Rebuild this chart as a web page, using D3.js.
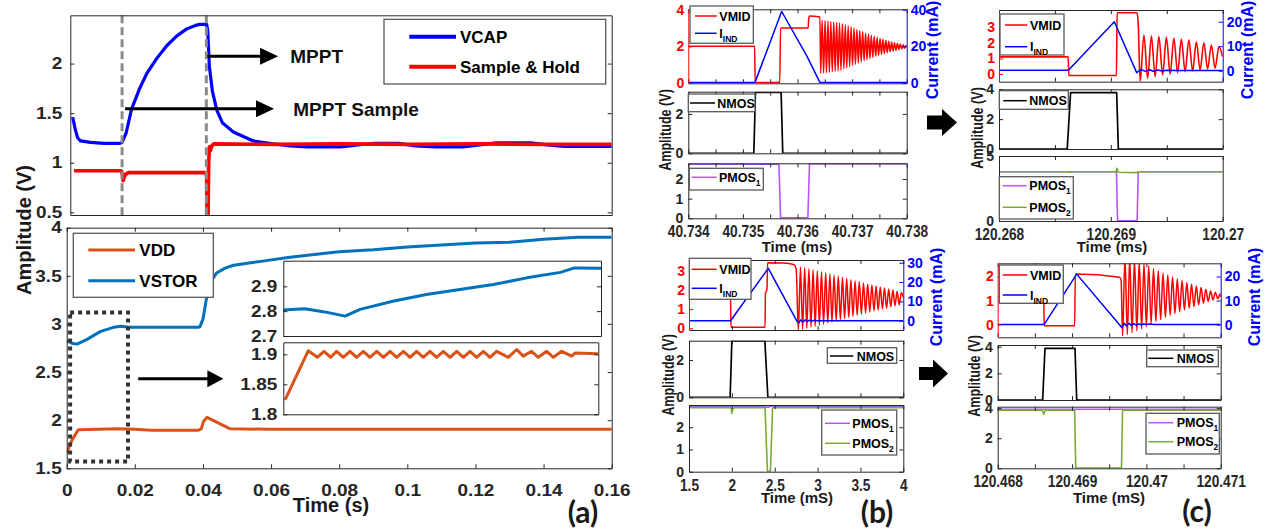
<!DOCTYPE html>
<html lang="en">
<head>
<meta charset="utf-8"/>
<title>MPPT and converter switching waveforms</title>
<script src="https://cdnjs.cloudflare.com/ajax/libs/d3/7.8.5/d3.min.js"></script>
<style>
  html, body { margin: 0; padding: 0; background: #fff; }
  svg { display: block; background: #fff; font-family: "Liberation Sans", Arial, sans-serif; font-weight: bold; }
</style>
</head>
<body>
<svg id="fig" width="1267" height="529"></svg>
<script>
// ---------------- (a) MPPT transient, time in s ----------------
const aTimeTicks = [0, 0.02, 0.04, 0.06, 0.08, 0.1, 0.12, 0.14, 0.16];
const aTimeLabels = ["0", "0.02", "0.04", "0.06", "0.08", "0.1", "0.12", "0.14", "0.16"];
const aTopTicks = [0.5, 1, 1.5, 2];
const aBotTicks = [1.5, 2, 2.5, 3, 3.5, 4];
const vcap = [[0.0007,1.46],[0.0015,1.33],[0.0022,1.25],[0.003,1.22],[0.006,1.205],[0.010,1.195],[0.0145,1.195],
  [0.0153,1.205],[0.0165,1.30],[0.0181,1.54],[0.0205,1.75],[0.0226,1.90],[0.0255,2.05],[0.0285,2.18],[0.0315,2.28],
  [0.0344,2.35],[0.0370,2.385],[0.0383,2.395],[0.0403,2.395],[0.0406,2.34],[0.0411,1.97],[0.0420,1.72],[0.0433,1.53],
  [0.0450,1.40],[0.0482,1.31],[0.0541,1.22],[0.0600,1.19],[0.0650,1.17],[0.0700,1.16],[0.0800,1.16],[0.0850,1.18],
  [0.0900,1.195],[0.0970,1.195],[0.1020,1.17],[0.1080,1.16],[0.1160,1.16],[0.1210,1.18],[0.1260,1.20],[0.1360,1.20],
  [0.1410,1.18],[0.1460,1.165],[0.1600,1.165]];
const sampleHold = [[0.0011,0.92],[0.0150,0.92],[0.0153,0.90],[0.0156,0.82],[0.0162,0.88],[0.0172,0.90],[0.0400,0.90],
  [0.0403,0.86],[0.0404,0.40],[0.0407,0.40],[0.0409,1.00],[0.0411,1.16],[0.0414,1.12],[0.0418,1.17],[0.0424,1.19],
  [0.0600,1.185],[0.0800,1.19],[0.1000,1.185],[0.1200,1.19],[0.1400,1.185],[0.1600,1.185]];
const mpptMarks = [0.0153, 0.0402];
const vstor = [[0,2.823],[0.0015,2.80],[0.003,2.79],[0.006,2.84],[0.0098,2.92],[0.0137,2.965],[0.016,2.975],[0.018,2.965],
  [0.030,2.965],[0.0385,2.965],[0.0391,2.97],[0.0400,3.05],[0.0411,3.28],[0.0425,3.45],[0.0440,3.53],[0.0465,3.58],
  [0.0490,3.61],[0.0530,3.63],[0.0570,3.65],[0.0650,3.69],[0.0720,3.72],[0.0800,3.75],[0.0900,3.77],[0.1000,3.80],
  [0.1100,3.82],[0.1200,3.84],[0.1300,3.85],[0.1400,3.88],[0.1500,3.90],[0.1600,3.90]];
const vdd = [[0,1.656],[0.0015,1.79],[0.0034,1.90],[0.015,1.91],[0.020,1.905],[0.025,1.895],[0.0385,1.895],[0.0395,1.91],
  [0.0402,1.99],[0.0412,2.03],[0.0480,1.91],[0.0600,1.905],[0.1600,1.905]];
// insets, time in ms
const stTicks = [2.7, 2.8, 2.9];
const vstorZoom = [[0,2.805],[1.2,2.81],[2.35,2.797],[3.5,2.78],[4.35,2.807],[6.2,2.84],[8.1,2.867],[10,2.887],
  [11.9,2.907],[13.8,2.934],[15.7,2.956],[16.5,2.974],[18,2.973]];
const vdTicks = [1.8, 1.85, 1.9];
const vddZoom = [[0.1,1.824],[1.43,1.906],[1.94,1.895],[2.33,1.905],[2.71,1.895],[3.05,1.905],[3.43,1.895],[3.81,1.905],
  [4.19,1.895],[4.57,1.905],[4.95,1.895],[5.34,1.905],[5.72,1.895],[6.1,1.905],[6.48,1.895],[6.86,1.905],[7.24,1.895],
  [7.62,1.905],[8.0,1.895],[8.38,1.905],[8.76,1.895],[9.14,1.905],[9.53,1.895],[9.91,1.905],[10.29,1.895],[10.67,1.905],
  [11.05,1.895],[11.43,1.905],[11.81,1.895],[12.19,1.905],[12.86,1.895],[13.34,1.908],[13.71,1.897],[14.19,1.905],
  [14.57,1.895],[15.05,1.905],[15.43,1.895],[15.91,1.905],[16.48,1.897],[16.67,1.902],[18,1.901]];

// ---------------- (b) top, time in us after 40.734 ms ----------------
const bTopTickVals = [0, 0.5, 1, 1.5, 2, 2.5, 3, 3.5, 4];
const bTopTickText = ["40.734", "", "40.735", "", "40.736", "", "40.737", "", "40.738"];
const vmidB1 = [[0,2.0],[1.215,2.0],[1.225,0.02],[1.675,0.02],[1.69,3.0],[2.195,3.0],[2.205,3.5],[2.225,3.66],[2.41,3.6]];
const vmidB1Ring = {t0: 2.425, dt: 0.0265, v: [0.52,3.42,0.54,3.40,0.56,3.38,0.58,3.36,0.61,3.33,0.64,3.30,0.67,3.27,
  0.71,3.23,0.77,3.17,0.83,3.11,0.89,3.05,0.96,2.98,1.02,2.92,1.09,2.85,1.15,2.79,1.21,2.73,1.27,2.67,1.33,2.61,
  1.39,2.55,1.45,2.49,1.51,2.43,1.56,2.38,1.61,2.33,1.66,2.28,1.70,2.24,1.74,2.20,1.78,2.16,1.82,2.12,1.86,2.08,1.89,2.05]};
const vmidB1End = [[4.0,1.97]];
const iIndB1 = [[0,0.3],[1.222,0.3],[1.71,39],[2.17,14.8],[2.41,0.3],[4,0.3]];
const nmosB1 = [[0,0],[1.2,0],[1.23,3.1],[1.70,3.1],[1.73,0],[4,0]];
const pmos1B1 = [[0,2.75],[1.66,2.75],[1.69,0.02],[2.19,0.02],[2.22,2.78],[4,2.78]];

// ---------------- (b) bottom, time in ms ----------------
const bBotTickVals = [1.5, 2, 2.5, 3, 3.5, 4];
const bBotTickText = ["1.5", "2", "2.5", "3", "3.5", "4"];
const vmidB2 = [[1.5,1.7],[1.984,1.7],[1.99,0.05],[2.387,0.05],[2.392,1.85],[2.40,1.92],[2.41,2.05],[2.417,3.42],
  [2.6,3.40],[2.72,3.33],[2.75,3.1]];
const vmidB2Ring = {t0: 2.776, dt: 0.0245, v: [-0.10,3.20,-0.05,3.15,0.00,3.10,0.06,3.04,0.11,2.99,0.16,2.94,0.21,2.89,
  0.27,2.83,0.33,2.77,0.39,2.71,0.45,2.65,0.51,2.59,0.57,2.53,0.63,2.47,0.68,2.42,0.74,2.36,0.79,2.31,0.85,2.25,
  0.90,2.20,0.95,2.15,1.00,2.10,1.05,2.05,1.11,1.99,1.17,1.93,1.23,1.87]};
const vmidB2End = [[4.0,1.6]];
const iIndB2 = [[1.5,0],[1.985,0],[2.425,27.1],[2.756,0],[2.78,-1.2],[2.8,0.4],[2.83,-0.6],[2.855,0.4],[2.88,-0.4],
  [2.905,0.3],[2.93,-0.3],[2.955,0.2],[3.0,0],[4.0,0]];
const nmosB2 = [[1.5,0],[1.98,0],[2.0,3.02],[2.385,3.02],[2.42,0],[4,0]];
const pmos1B2 = [[1.5,2.95],[2.38,2.95],[2.40,2.9],[2.43,2.9],[2.45,2.95],[4,2.95]];
const pmos2B2 = [[1.5,2.88],[1.99,2.88],[2.0,2.62],[2.01,2.8],[2.03,2.88],[2.387,2.88],[2.415,0.02],[2.45,0.02],
  [2.475,2.88],[4,2.88]];

// ---------------- (c) top, time in us after 120.268 ms ----------------
const cTopTickVals = [0, 0.5, 1, 1.5, 2];
const cTopTickText = ["120.268", "", "120.269", "", "120.27"];
const vmidC1 = [[0,1.1],[0.618,1.1],[0.625,-0.1],[1.05,-0.1],[1.056,3.95],[1.235,3.95],[1.245,3.2]];
const vmidC1Ring = {t0: 1.262, dt: 0.0335, v: [-0.5,2.52,-0.28,2.45,-0.17,2.41,-0.06,2.37,0.0,2.30,0.08,2.24,
  0.15,2.19,0.19,2.08,0.26,2.02,0.32,1.87,0.37,1.76]};
const vmidC1End = [[2.0,1.1]];
const iIndC1 = [[0,0.2],[0.62,0.2],[1.031,20],[1.231,-0.8],[1.27,0.5],[1.31,-0.3],[1.345,0.4],[1.38,-0.2],[1.42,0.3],
  [1.46,-0.1],[1.5,0.2],[1.6,0.1],[2,0.1]];
const nmosC1 = [[0,0],[0.61,0],[0.64,3.78],[1.052,3.78],[1.067,0],[2,0]];
const pmos1C1 = [[0,3.79],[1.05,3.79],[1.06,0.02],[1.235,0.02],[1.245,3.79],[2,3.79]];
const pmos2C1 = [[0,3.79],[0.62,3.79],[0.63,3.75],[0.65,3.79],[1.045,3.79],[1.055,4.05],[1.065,3.75],[1.24,3.72],
  [1.25,3.79],[2,3.79]];

// ---------------- (c) bottom, time in us after 120.468 ms ----------------
const cBotTickVals = [0, 0.5, 1, 1.5, 2, 2.5, 3];
const cBotTickText = ["120.468", "", "120.469", "", "120.47", "", "120.471"];
const vmidC2 = [[0,1.15],[0.62,1.15],[0.625,-0.05],[1.035,-0.05],[1.045,2.1],[1.64,1.97],[1.66,1.85]];
const vmidC2Ring = {t0: 1.68, dt: 0.032, v: [-0.47,2.83,-0.42,2.78,-0.34,2.70,-0.26,2.62,-0.18,2.54,-0.08,2.44,
  0.03,2.33,0.12,2.24,0.21,2.15,0.30,2.06,0.38,1.98,0.46,1.90,0.53,1.83,0.61,1.75,0.68,1.68,0.75,1.61,0.82,1.54,
  0.89,1.47,0.96,1.40,1.02,1.34,1.08,1.28]};
const vmidC2End = [[3.0,1.15]];
const iIndC2 = [[0,0],[0.623,0],[1.063,21],[1.67,-1.2],[1.7,0.5],[1.73,-0.5],[1.765,0.5],[1.8,-0.3],[1.83,0.4],
  [1.865,-0.2],[1.9,0.3],[1.93,-0.1],[1.96,0.2],[2.0,0],[2.05,0.2],[2.1,0],[3,0]];
const nmosC2 = [[0,0],[0.605,0],[0.636,3.87],[1.04,3.87],[1.063,0],[3,0]];
const pmos1C2 = [[0,3.93],[3,3.93]];
const pmos2C2 = [[0,3.87],[0.6,3.87],[0.62,3.6],[0.64,3.87],[1.035,3.87],[1.05,0.02],[1.665,0.02],[1.68,3.87],[3,3.87]];

// ---------------- drawing ----------------
const FONT = '"Liberation Sans", Arial, sans-serif';
const INK = "#262626";
const RED = "#ff0000", BLUE = "#0000ff", PURPLE = "#b455ff", GREEN = "#77ac30";
const svg = d3.select("#fig");
const defs = svg.append("defs");
const fmt = d3.format("~g");
let nClip = 0;

const ring = r => r.v.map((v, i) => [r.t0 + i * r.dt, v]);

function panel(o) {
  const g = svg.append("g");
  const x = d3.scaleLinear().domain(o.xd).range([o.l, o.r]);
  const y = d3.scaleLinear().domain(o.yd).range([o.b, o.t]);
  const y2 = o.y2d ? d3.scaleLinear().domain(o.y2d).range([o.b, o.t]) : null;
  if (o.bg) g.append("rect").attr("x", o.l).attr("y", o.t)
    .attr("width", o.r - o.l).attr("height", o.b - o.t).attr("fill", "#fff");
  const id = "clip" + (nClip++);
  defs.append("clipPath").attr("id", id).append("rect")
    .attr("x", o.l).attr("y", o.t).attr("width", o.r - o.l).attr("height", o.b - o.t);
  const plot = g.append("g").attr("clip-path", `url(#${id})`);
  const ax = g.append("g");
  const p = {o, g, plot, ax, x, y, y2};
  drawAxes(p);
  return p;
}

function styleText(sel, fs, sc) {
  sel.attr("font-family", FONT).attr("font-weight", "bold");
  sel.selectAll("text").attr("font-size", fs).attr("transform", `scale(${sc[0]},${sc[1]})`);
}

function drawAxes(p) {
  const o = p.o, tl = o.tl || 4, pad = o.ypad || 5;
  const xs = o.xs || [1, 0.86], ys = o.ys || [1, 0.86];
  const xt = o.xt || [];
  const gb = p.ax.append("g").attr("transform", `translate(0,${o.b})`).attr("color", INK)
    .call(d3.axisBottom(p.x).tickValues(xt).tickSizeInner(-tl).tickSizeOuter(0)
      .tickFormat((d, i) => o.xl ? o.xl[i] : ""));
  styleText(gb, o.fs, xs);
  gb.selectAll("text").attr("y", (o.xpad || 8) / xs[1]);
  p.ax.append("g").attr("transform", `translate(0,${o.t})`).attr("color", INK)
    .call(d3.axisTop(p.x).tickValues(xt).tickSizeInner(-tl).tickSizeOuter(0).tickFormat(""));
  const gl = p.ax.append("g").attr("transform", `translate(${o.l},0)`).attr("color", o.yc || INK)
    .call(d3.axisLeft(p.y).tickValues(o.yt).tickSizeInner(-tl).tickSizeOuter(0).tickPadding(pad).tickFormat(fmt));
  styleText(gl, o.yfs || o.fs, ys);
  const ra = p.y2 ? d3.axisRight(p.y2).tickValues(o.y2t).tickFormat(fmt)
                  : d3.axisRight(p.y).tickValues(o.yt).tickFormat("");
  const gr = p.ax.append("g").attr("transform", `translate(${o.r},0)`).attr("color", p.y2 ? o.y2c : INK)
    .call(ra.tickSizeInner(-tl).tickSizeOuter(0).tickPadding(pad));
  styleText(gr, o.yfs || o.fs, ys);
}

function trace(p, data, color, w, ys, curve) {
  const yy = ys || p.y;
  p.plot.append("path").datum(data)
    .attr("fill", "none").attr("stroke", color).attr("stroke-width", w)
    .attr("stroke-linejoin", "round")
    .attr("d", d3.line().curve(curve || d3.curveLinear).x(d => p.x(d[0])).y(d => yy(d[1])));
}

function legend(box, lx0, lx1, tx, rows, fs, lw) {
  const g = svg.append("g");
  g.append("rect").attr("x", box[0]).attr("y", box[1]).attr("width", box[2] - box[0]).attr("height", box[3] - box[1])
    .attr("fill", "#fff").attr("stroke", "#5a5a5a").attr("stroke-width", 1.3);
  rows.forEach(r => {
    g.append("line").attr("x1", lx0).attr("x2", lx1).attr("y1", r.y).attr("y2", r.y)
      .attr("stroke", r.c).attr("stroke-width", lw);
    const t = g.append("text").attr("x", tx).attr("y", r.y).attr("dy", "0.36em")
      .attr("font-size", fs).attr("fill", "#000").text(r.name);
    if (r.sub) t.append("tspan").attr("dy", fs * 0.32).attr("font-size", fs * 0.68).text(r.sub);
  });
}

function label(x, y, str, fs, opt) {
  opt = opt || {};
  let tr = `translate(${x},${y})`;
  if (opt.rot) tr += ` scale(1,${opt.sy || 1}) rotate(-90)`;
  svg.append("text").attr("transform", tr).attr("text-anchor", opt.anchor || "middle").attr("dy", "0.36em")
    .attr("font-size", fs).attr("fill", opt.color || "#1a1a1a")
    .attr("font-family", opt.font || FONT).text(str);
}

function arrowHead(x, y, len, half) {
  svg.append("path").attr("fill", "#000")
    .attr("d", `M${x},${y}L${x - len},${y - half}L${x - len},${y + half}Z`);
}

// ----- (a) top -----
const aTop = panel({l: 70.3, r: 611.7, t: 15.3, b: 215, xd: [0, 0.16], yd: [0.473, 2.487], yt: aTopTicks, fs: 19, ypad: 8});
trace(aTop, vcap, BLUE, 3.2);
trace(aTop, sampleHold, RED, 3.6);
mpptMarks.forEach(t => {
  aTop.plot.append("line").attr("x1", aTop.x(t)).attr("x2", aTop.x(t)).attr("y1", 15.3).attr("y2", 215)
    .attr("stroke", "#8a8a8a").attr("stroke-width", 3).attr("stroke-dasharray", "8 4");
});
[[0.0405, 0.0614, 2.074, "MPPT", 0.065], [0.0162, 0.0602, 1.544, "MPPT Sample", 0.0659]].forEach(a => {
  const y = aTop.y(a[2]);
  svg.append("line").attr("x1", aTop.x(a[0])).attr("x2", aTop.x(a[1]) - 14).attr("y1", y).attr("y2", y)
    .attr("stroke", "#000").attr("stroke-width", 3);
  arrowHead(aTop.x(a[1]), y, 18, 8.5);
  label(aTop.x(a[4]), y, a[3], 19, {anchor: "start", color: "#111"});
});
legend([384, 19.3, 605.7, 84], 409.3, 456, 460,
  [{y: 36.7, c: BLUE, name: "VCAP"}, {y: 66.7, c: RED, name: "Sample & Hold"}], 17, 4);

// ----- (a) bottom -----
const aBot = panel({l: 66.7, r: 611.7, t: 227.7, b: 468.3, xd: [0, 0.16], yd: [1.5, 4], yt: aBotTicks,
  xt: aTimeTicks, xl: aTimeLabels, fs: 19, ypad: 5, xpad: 16});
trace(aBot, vstor, "#0072bd", 3);
trace(aBot, vdd, "#d95319", 3);
const insSt = panel({l: 283.3, r: 601, t: 260.7, b: 336, xd: [0, 18], yd: [2.7, 3.003], yt: stTicks, fs: 19, ypad: 6, bg: true});
trace(insSt, vstorZoom, "#0072bd", 3);
const insVd = panel({l: 283.3, r: 598.3, t: 342.3, b: 414.3, xd: [0, 18], yd: [1.8, 1.92], yt: vdTicks, fs: 19, ypad: 6, bg: true});
trace(insVd, vddZoom, "#d95319", 3);
// zoom window marker
svg.append("rect").attr("x", aBot.x(0.001)).attr("y", aBot.y(3.12))
  .attr("width", aBot.x(0.018) - aBot.x(0.001)).attr("height", aBot.y(1.57) - aBot.y(3.12))
  .attr("fill", "none").attr("stroke", "#333").attr("stroke-width", 4).attr("stroke-dasharray", "4 4");
svg.append("line").attr("x1", aBot.x(0.021)).attr("x2", aBot.x(0.046) - 14)
  .attr("y1", aBot.y(2.43)).attr("y2", aBot.y(2.43)).attr("stroke", "#000").attr("stroke-width", 3);
arrowHead(aBot.x(0.046), aBot.y(2.43), 16, 8.5);
legend([73.3, 233.3, 213.3, 297.3], 88.3, 135, 139.3,
  [{y: 250, c: "#d95319", name: "VDD"}, {y: 280.7, c: "#0072bd", name: "VSTOR"}], 17, 3);

label(24, 230, "Amplitude (V)", 20, {rot: true});
label(331, 505, "Time (s)", 20);
label(583, 512, "(a)", 30, {font: "Lato, sans-serif"});

// ----- (b) -----
const SF = 16.3, YF = 14, XS = [0.84, 1], YS = [1, 1];
const MONO = d3.curveMonotoneX;
const sub = o => Object.assign({fs: SF, yfs: YF, xs: XS, ys: YS, xpad: 7.5}, o);
const b1 = panel(sub({l: 688.3, r: 906.7, t: 9.3, b: 83.3, xd: [0, 4], yd: [-0.02, 4.02], y2d: [-0.2, 40.2],
  yt: [0, 2, 4], y2t: [0, 20, 40], yc: RED, y2c: BLUE, xt: bTopTickVals, ypad: 4}));
trace(b1, vmidB1.concat(ring(vmidB1Ring), vmidB1End), RED, 1.5, null, MONO);
trace(b1, iIndB1, BLUE, 1.5, b1.y2);
const b2 = panel(sub({l: 688.3, r: 906.7, t: 91.7, b: 153.3, xd: [0, 4], yd: [0, 3.13], yt: [0, 2], xt: bTopTickVals}));
trace(b2, nmosB1, "#000", 1.7);
const b3 = panel(sub({l: 688.3, r: 906.7, t: 163.3, b: 218.3, xd: [0, 4], yd: [0, 2.8], yt: [0, 1, 2],
  xt: bTopTickVals, xl: bTopTickText}));
trace(b3, pmos1B1, PURPLE, 1.6);
legend([690, 6, 753.3, 43.3], 695, 716.7, 719.3,
  [{y: 16, c: RED, name: "VMID"}, {y: 33.3, c: BLUE, name: "I", sub: "IND"}], 12.5, 1.5);
legend([688.3, 94, 755, 111.7], 690, 715, 717.3, [{y: 103, c: "#000", name: "NMOS"}], 12.5, 1.5);
legend([689.3, 168.3, 763.3, 190], 691.7, 716.7, 719, [{y: 177.3, c: PURPLE, name: "PMOS", sub: "1"}], 12.5, 1.5);

const b4 = panel(sub({l: 689, r: 903.3, t: 260, b: 330, xd: [1.5, 4], yd: [-0.09, 3.56], y2d: [-4.8, 31.4],
  yt: [0, 1, 2, 3], y2t: [0, 10, 20, 30], yc: RED, y2c: BLUE, xt: bBotTickVals, ypad: 4}));
trace(b4, vmidB2.concat(ring(vmidB2Ring), vmidB2End), RED, 1.5, null, MONO);
trace(b4, iIndB2, BLUE, 1.5, b4.y2);
const b5 = panel(sub({l: 689, r: 903.3, t: 340.7, b: 397.3, xd: [1.5, 4], yd: [0, 3.03], yt: [0, 2], xt: bBotTickVals}));
trace(b5, nmosB2, "#000", 1.7);
const b6 = panel(sub({l: 689, r: 903.3, t: 405, b: 471.7, xd: [1.5, 4], yd: [0, 3], yt: [0, 1, 2],
  xt: bBotTickVals, xl: bBotTickText}));
trace(b6, pmos1B2, PURPLE, 1.6);
trace(b6, pmos2B2, GREEN, 1.6);
legend([689.3, 258.3, 751, 299.3], 691.7, 716.7, 719.3,
  [{y: 269.3, c: RED, name: "VMID"}, {y: 288.3, c: BLUE, name: "I", sub: "IND"}], 12.5, 1.5);
legend([827.3, 347.7, 896.7, 363.3], 830, 853.3, 856.7, [{y: 356, c: "#000", name: "NMOS"}], 12.5, 1.5);
legend([821.7, 410, 896.7, 455], 825, 850, 852.3,
  [{y: 423.3, c: PURPLE, name: "PMOS", sub: "1"}, {y: 443.3, c: GREEN, name: "PMOS", sub: "2"}], 12.5, 1.5);

label(665, 130, "Amplitude (V)", 17, {rot: true, sy: 0.74});
label(932, 50, "Current (mA)", 16, {rot: true, color: BLUE});
label(797, 247, "Time (ms)", 15);
label(667.5, 375, "Amplitude (V)", 17, {rot: true, sy: 0.74});
label(936, 297, "Current (mA)", 16, {rot: true, color: BLUE});
label(797, 498, "Time (mS)", 15);
label(877, 512, "(b)", 30, {font: "Lato, sans-serif"});

// ----- (c) -----
const c1 = panel(sub({l: 999, r: 1222.7, t: 10, b: 81.7, xd: [0, 2], yd: [-0.5, 4.13], y2d: [-4.5, 24.8],
  yt: [0, 1, 2, 3], y2t: [0, 10, 20], yc: RED, y2c: BLUE, xt: cTopTickVals, ypad: 4}));
trace(c1, vmidC1.concat(ring(vmidC1Ring), vmidC1End), RED, 1.6, null, MONO);
trace(c1, iIndC1, BLUE, 1.5, c1.y2);
const c2 = panel(sub({l: 999, r: 1222.7, t: 89.3, b: 149, xd: [0, 2], yd: [0, 4], yt: [0, 2, 4], xt: cTopTickVals}));
trace(c2, nmosC1, "#000", 1.7);
const c3 = panel(sub({l: 999, r: 1222.7, t: 156, b: 221, xd: [0, 2], yd: [0, 5], yt: [0, 5],
  xt: cTopTickVals, xl: cTopTickText}));
trace(c3, pmos1C1, PURPLE, 1.6);
trace(c3, pmos2C1, GREEN, 1.6);
legend([1000, 14, 1064, 55], 1005, 1027.3, 1030,
  [{y: 25, c: RED, name: "VMID"}, {y: 46.7, c: BLUE, name: "I", sub: "IND"}], 12.5, 1.5);
legend([999.3, 90.7, 1068.3, 109.3], 1003.3, 1026.7, 1029.3, [{y: 100.7, c: "#000", name: "NMOS"}], 12.5, 1.5);
legend([999.3, 176.7, 1073.3, 219], 1002.7, 1026.7, 1029.3,
  [{y: 185.7, c: PURPLE, name: "PMOS", sub: "1"}, {y: 207.3, c: GREEN, name: "PMOS", sub: "2"}], 12.5, 1.5);

const c4 = panel(sub({l: 997.7, r: 1220.7, t: 263.3, b: 337.3, xd: [0, 3], yd: [-0.53, 2.55], y2d: [-5.3, 25.5],
  yt: [0, 1, 2], y2t: [0, 10, 20], yc: RED, y2c: BLUE, xt: cBotTickVals, ypad: 4}));
trace(c4, vmidC2.concat(ring(vmidC2Ring), vmidC2End), RED, 1.5, null, MONO);
trace(c4, iIndC2, BLUE, 1.5, c4.y2);
const c5 = panel(sub({l: 997.7, r: 1220.7, t: 345, b: 400, xd: [0, 3], yd: [0, 4.13], yt: [0, 2, 4], xt: cBotTickVals}));
trace(c5, nmosC2, "#000", 1.7);
const c6 = panel(sub({l: 997.7, r: 1220.7, t: 406.7, b: 468.3, xd: [0, 3], yd: [0, 4.1], yt: [0, 2, 4],
  xt: cBotTickVals, xl: cBotTickText}));
trace(c6, pmos1C2, PURPLE, 1.6);
trace(c6, pmos2C2, GREEN, 1.6);
legend([999.3, 265, 1063.3, 303.3], 1002.7, 1027.3, 1030,
  [{y: 275, c: RED, name: "VMID"}, {y: 295, c: BLUE, name: "I", sub: "IND"}], 12.5, 1.5);
legend([1146.7, 350, 1218.3, 366.7], 1148.3, 1173.3, 1176.7, [{y: 358.3, c: "#000", name: "NMOS"}], 12.5, 1.5);
legend([1146, 413.3, 1219.3, 454], 1148.3, 1173.3, 1176.7,
  [{y: 422.7, c: PURPLE, name: "PMOS", sub: "1"}, {y: 441.7, c: GREEN, name: "PMOS", sub: "2"}], 12.5, 1.5);

label(976.7, 128, "Amplitude (V)", 17, {rot: true, sy: 0.74});
label(1247.5, 50, "Current (mA)", 16, {rot: true, color: BLUE});
label(1112, 247, "Time (ms)", 15);
label(974, 376, "Amplitude (V)", 17, {rot: true, sy: 0.74});
label(1254, 297, "Current (mA)", 16, {rot: true, color: BLUE});
label(1109, 498, "Time (mS)", 15);
label(1197, 511, "(c)", 30, {font: "Lato, sans-serif"});

// block arrows between (b) and (c)
[[[927,115.5],[942,115.5],[942,109],[957,122.5],[942,136],[942,129.5],[927,129.5]],
 [[919,367],[933,367],[933,359.5],[948,373.5],[933,387.5],[933,380],[919,380]]].forEach(pts => {
  svg.append("polygon").attr("points", pts.map(p => p.join(",")).join(" ")).attr("fill", "#000");
});
</script>
</body>
</html>
